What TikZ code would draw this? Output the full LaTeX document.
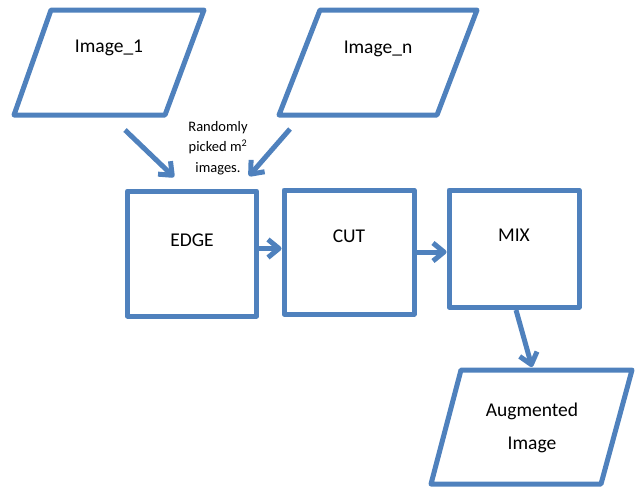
\documentclass[tikz,border=0pt]{standalone}
\usepackage{fontspec}
\setmainfont{Carlito}
\usetikzlibrary{arrows.meta, calc}

\definecolor{flowblue}{HTML}{4F81BD}

\tikzset{
	outline/.style={draw=flowblue, line width=5pt, line join=round},
	blk/.style={outline, inner sep=0pt, minimum width=129pt, minimum height=125pt, text height=14pt, text depth=28pt, font=\fontsize{19.5}{23}\selectfont},
	flow/.style={draw=flowblue, line width=5pt, -{Straight Barb[length=11pt, width=18pt, line join=round]}},
	txt/.style={font=\fontsize{19.5}{33}\selectfont, align=center}
}

\begin{document}
\begin{tikzpicture}[x=1pt, y=-1pt]
	\useasboundingbox (0,0) rectangle (642,491);

	% input images
	\draw[outline] (51,10) -- (204,10) -- (165,115) -- (14,115) -- cycle;
	\draw[outline] (320,10) -- (477,10) -- (437,115) -- (279,115) -- cycle;
	\node[txt] (img1) at (109,48) {Image\_1};
	\node[txt] (imgn) at (378,49) {Image\_n};

	\node[font=\fontsize{14.5}{20.5}\selectfont, align=center] (pick) at (218,148) {Randomly\\picked m\textsuperscript{2}\\images.};

	% edge - cut - mix
	\node[blk] (edge) at (192,253.5) {EDGE};
	\node[blk, minimum width=130pt, minimum height=124pt, text depth=33pt] (cut) at (349,252) {CUT};
	\node[blk, minimum width=130pt, minimum height=117pt, text depth=28pt] (mix) at (514,248.5) {MIX};

	% output
	\draw[outline] (461,370) -- (632,370) -- (601,484) -- (431,484) -- cycle;
	\node[txt] (aug) at (532,428) {Augmented\\Image};

	\coordinate (s1) at (125,130);
	\coordinate (t1) at (174,177);
	\coordinate (s2) at (290,129);
	\coordinate (t2) at (249,176);
	\coordinate (s3) at (516,310);
	\coordinate (t3) at (532,367);

	\draw[flow] (s1) -- (t1);
	\draw[flow] (s2) -- (t2);
	\draw[flow] ([yshift=5pt]edge.east) -- ([yshift=5pt]edge.east -| cut.west);
	\draw[flow] (cut.east) -- (cut.east -| mix.west);
	\draw[flow] (s3) -- (t3);
\end{tikzpicture}
\end{document}
